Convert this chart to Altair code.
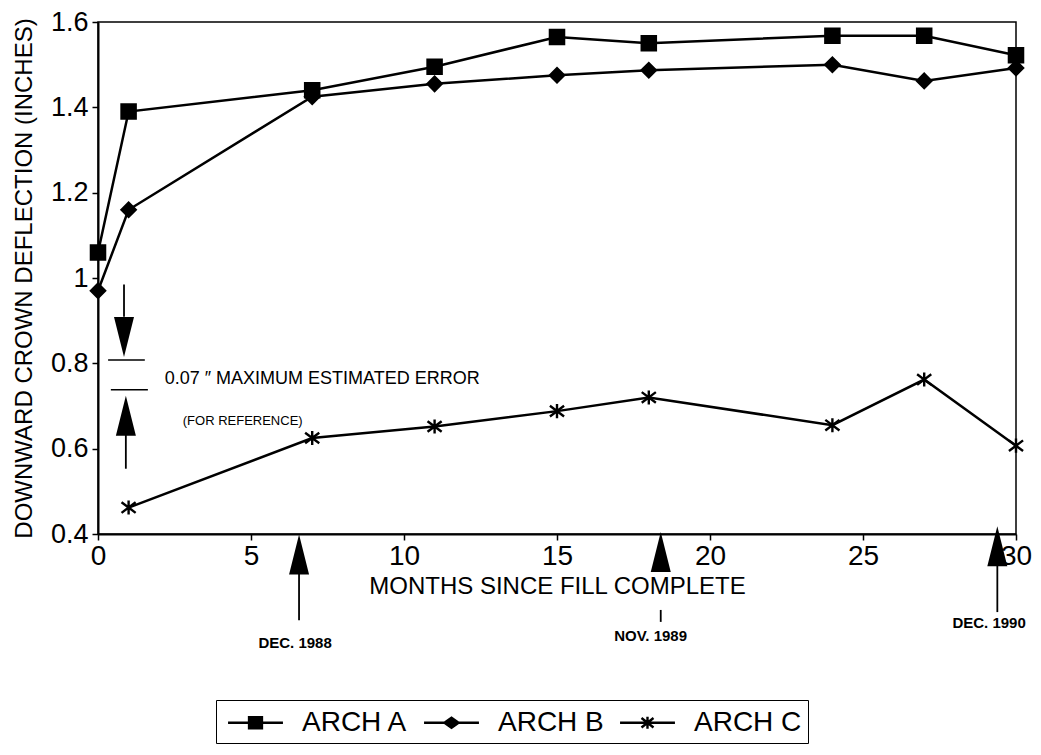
import altair as alt
import pandas as pd

# ---------------- data ----------------
months_ab = [0, 1, 7, 11, 15, 18, 24, 27, 30]
arch_a = [1.06, 1.39, 1.44, 1.495, 1.565, 1.55, 1.568, 1.568, 1.522]
arch_b = [0.97, 1.16, 1.425, 1.455, 1.475, 1.487, 1.50, 1.462, 1.492]
months_c = [1, 7, 11, 15, 18, 24, 27, 30]
arch_c = [0.462, 0.625, 0.652, 0.688, 0.72, 0.655, 0.762, 0.607]

series_names = ["ARCH A", "ARCH B", "ARCH C"]

x_ticks = [0, 5, 10, 15, 20, 25, 30]
y_ticks = [0.4, 0.6, 0.8, 1.0, 1.2, 1.4, 1.6]

# annotation: error-bar reference marks
err_line_x1 = [0.33, 0.42]
err_line_x2 = [1.53, 1.63]
err_line_y = [0.808, 0.738]

# arrow shafts (x, y_start, y_end)
shaft_x = [0.85, 0.91, 6.57, 18.39, 29.39]
shaft_y1 = [0.985, 0.633, 0.306, 0.222, 0.330]
shaft_y2 = [0.909, 0.553, 0.198, 0.194, 0.217]

# arrow heads (x, y-center, direction)
head_x = [0.85, 0.91, 6.57, 18.39, 29.39]
head_y = [0.862, 0.677, 0.352, 0.358, 0.371]
head_dir = ["down", "up", "up", "up", "up"]

# date labels under the axis
date_text = ["DEC. 1988", "NOV. 1989", "DEC. 1990"]
date_x = [6.44, 18.06, 29.12]
date_y = [0.133, 0.149, 0.18]

# text notes
note_text = ["0.07 \u2033  MAXIMUM ESTIMATED ERROR", "(FOR  REFERENCE)"]
note_x = [2.18, 2.77]
note_y = [0.752, 0.655]
note_size = [18, 13]

# ---------------- tables ----------------
rows = []
for m, v in zip(months_ab, arch_a):
    rows.append({"month": m, "value": v, "series": "ARCH A"})
for m, v in zip(months_ab, arch_b):
    rows.append({"month": m, "value": v, "series": "ARCH B"})
for m, v in zip(months_c, arch_c):
    rows.append({"month": m, "value": v, "series": "ARCH C"})
df = pd.DataFrame(rows)

df_err = pd.DataFrame({"x1": err_line_x1, "x2": err_line_x2, "y": err_line_y})
df_shaft = pd.DataFrame({"x": shaft_x, "y1": shaft_y1, "y2": shaft_y2})
df_head = pd.DataFrame({"x": head_x, "y": head_y, "dir": head_dir})
df_date = pd.DataFrame({"t": date_text, "x": date_x, "y": date_y})
df_note = pd.DataFrame({"t": note_text, "x": note_x, "y": note_y, "s": note_size})

FONT = "Liberation Sans"
NARROW = "Liberation Sans Narrow, Liberation Sans"

xs = alt.Scale(domain=[0, 30], nice=False, zero=False)
ys = alt.Scale(domain=[0.4, 1.6], nice=False, zero=False)

x_enc = alt.X(
    "month:Q", scale=xs,
    axis=alt.Axis(values=x_ticks, title="MONTHS SINCE FILL COMPLETE", grid=False,
                  labelFontSize=28, labelFont=FONT, labelColor="black",
                  titleFontSize=24, titleFont=NARROW, titleFontWeight="normal",
                  titleColor="black", titlePadding=4, tickSize=6, labelPadding=2,
                  domainColor="black", domainWidth=2, tickColor="black", tickWidth=1.5,
                  labelFlush=False),
)
y_enc = alt.Y(
    "value:Q", scale=ys,
    axis=alt.Axis(values=y_ticks, format="~g", title="DOWNWARD CROWN DEFLECTION (INCHES)",
                  grid=False, labelFontSize=27, labelFont=FONT, labelColor="black",
                  titleFontSize=24, titleFont=FONT, titleFontWeight="normal",
                  titleColor="black", titlePadding=14, tickSize=6, labelPadding=4,
                  domainColor="black", domainWidth=2, tickColor="black", tickWidth=1.5,
                  labelFlush=False),
)

base = alt.Chart(df)

lines = base.mark_line(color="black", strokeWidth=2.5).encode(
    x=x_enc, y=y_enc, detail="series:N"
)

marker_paths = [
    "square",
    "diamond",
    "M-1,-0.75L1,0.75M-1,0.75L1,-0.75M0,-1V1",
]
points = base.mark_point(filled=True, color="black", stroke="black", strokeWidth=2.4,
                         opacity=1, size=200).encode(
    x="month:Q", y="value:Q",
    shape=alt.Shape("series:N", scale=alt.Scale(domain=series_names, range=marker_paths),
                    legend=None),
)

# legend symbols: a line with the marker drawn through it (stroked only)
legend_paths = [
    "M-1.83,0H1.83M-0.43,-0.37H0.43V0.37H-0.43ZM-0.43,-0.22H0.43M-0.43,-0.08H0.43"
    "M-0.43,0.08H0.43M-0.43,0.22H0.43",
    "M-1.83,0H1.83M-0.47,0L0,-0.33L0.47,0L0,0.33ZM-0.28,-0.13H0.28M-0.28,0.13H0.28",
    "M-1.83,0H1.83M-0.4,-0.32L0.4,0.32M-0.4,0.32L0.4,-0.32M0,-0.4V0.4",
]
legend_layer = base.mark_point(filled=False, color="black", strokeWidth=2.4,
                               opacity=0).encode(
    x="month:Q", y="value:Q",
    shape=alt.Shape(
        "series:N",
        scale=alt.Scale(domain=series_names, range=legend_paths),
        legend=alt.Legend(
            title=None, orient="none", direction="horizontal",
            legendX=118, legendY=678,
            symbolSize=900, symbolOpacity=1, symbolStrokeWidth=2.4,
            symbolStrokeColor="black",
            symbolOffset=17,
            labelFontSize=28, labelFont=FONT, labelColor="black",
            labelOffset=30, columnPadding=10, padding=6,
            strokeColor="black", labelLimit=300,
        ),
    ),
)

err_lines = alt.Chart(df_err).mark_rule(color="black", strokeWidth=1.5).encode(
    x="x1:Q", x2="x2:Q", y="y:Q"
)
shafts = alt.Chart(df_shaft).mark_rule(color="black", strokeWidth=1.8).encode(
    x="x:Q", y="y1:Q", y2="y2:Q"
)
heads = alt.Chart(df_head).mark_point(filled=True, color="black", opacity=1, size=1600,
                                     strokeWidth=0).encode(
    x="x:Q", y="y:Q",
    shape=alt.Shape("dir:N", scale=alt.Scale(domain=["up", "down"],
                                             range=["M0,-1L0.5,1L-0.5,1Z", "M0,1L0.5,-1L-0.5,-1Z"]),
                    legend=None),
)
dates = alt.Chart(df_date).mark_text(fontSize=15, font=NARROW, fontWeight="bold",
                                     color="black", align="center", baseline="alphabetic").encode(
    x="x:Q", y="y:Q", text="t:N"
)
notes = alt.Chart(df_note).mark_text(font=NARROW, color="black", align="left",
                                     baseline="alphabetic").encode(
    x="x:Q", y="y:Q", text="t:N", size=alt.Size("s:Q", scale=None, legend=None)
)

chart = alt.layer(
    lines, points, legend_layer, err_lines, shafts, heads, dates, notes
).resolve_scale(shape="independent").properties(
    width=918, height=512,
    autosize=alt.AutoSizeParams(type="none"),
    padding={"left": 90, "top": 14, "right": 17, "bottom": 213},
    background="white",
).configure_view(stroke="black", strokeWidth=1.5)

chart.save("out.html", embed_options={"renderer": "svg", "actions": False})
